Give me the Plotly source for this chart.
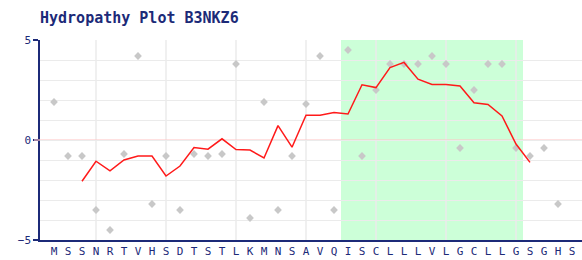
import plotly.graph_objects as go

# Sequence (one-letter codes) shown on the x axis
residues = list("MSSNRTVHSDTSTLKMNSAVQISCLLLVLGCLLGSGHS")
positions = list(range(1, len(residues) + 1))

# Per-residue hydropathy (grey points), residues 1..37
point_pos = list(range(1, 38))
point_vals = [1.9, -0.8, -0.8, -3.5, -4.5, -0.7, 4.2, -3.2, -0.8, -3.5,
              -0.7, -0.8, -0.7, 3.8, -3.9, 1.9, -3.5, -0.8, 1.8, 4.2,
              -3.5, 4.5, -0.8, 2.5, 3.8, 3.8, 3.8, 4.2, 3.8, -0.4,
              2.5, 3.8, 3.8, -0.4, -0.8, -0.4, -3.2]

# Smoothed hydropathy (red line), positions 3..35
line_pos = list(range(3, 36))
line_vals = [-2.06, -1.06, -1.54, -1.00, -0.80, -0.80, -1.80, -1.30, -0.38, -0.46,
             0.06, -0.48, -0.50, -0.90, 0.72, -0.36, 1.24, 1.24, 1.38, 1.30,
             2.76, 2.62, 3.62, 3.88, 3.04, 2.78, 2.78, 2.70, 1.86, 1.78,
             1.20, -0.20, -1.12]

# Predicted hydrophobic region (first and last residue)
region = [22, 34]
grid_x = [4, 9, 14, 19, 24, 29, 34]
y_ticks = [-5, 0, 5]

NAVY = "#1c2a78"
GRID = "#ebebeb"
W, H = 582, 260
ML, MT, MB = 40, 40, 20
plot_w = W - ML
unit = 14.0

fig = go.Figure()

fig.add_trace(go.Scatter(
    x=point_pos, y=point_vals, mode="markers",
    marker=dict(symbol="diamond", size=6, color="#c8c8c8"),
    hoverinfo="skip", showlegend=False))

fig.add_trace(go.Scatter(
    x=line_pos, y=line_vals, mode="lines",
    line=dict(color="#ff1a1a", width=1.5),
    hoverinfo="skip", showlegend=False))

shapes = [dict(type="rect", xref="x", yref="paper", x0=region[0] - 0.5, x1=region[1] + 0.5,
               y0=0, y1=1, fillcolor="#ccffd8", line=dict(width=0), layer="below")]
for gx in grid_x:
    shapes.append(dict(type="line", xref="x", yref="paper", x0=gx, x1=gx, y0=0, y1=1,
                       line=dict(color=GRID, width=1.5), layer="below"))
shapes.append(dict(type="line", xref="paper", yref="y", x0=0, x1=1, y0=0, y1=0,
                   line=dict(color="#ffc4c4", width=1.2), layer="between"))
shapes.append(dict(type="line", xref="paper", yref="y", x0=-6 / plot_w, x1=0, y0=0, y1=0,
                   line=dict(color="#ffc4c4", width=1.2), layer="above"))
fig.update_layout(shapes=shapes)

fig.update_layout(
    width=W, height=H,
    margin=dict(l=ML, r=0, t=MT, b=MB, pad=0),
    paper_bgcolor="white", plot_bgcolor="white",
    title=dict(text="<b>Hydropathy Plot B3NKZ6</b>", x=40 / W, xanchor="left",
               xref="container", y=1 - 18 / H, yanchor="middle", yref="container",
               font=dict(family="DejaVu Sans Mono", size=15, color=NAVY)),
    font=dict(family="DejaVu Sans Mono", size=11, color=NAVY),
    xaxis=dict(range=[0, plot_w / unit], tickmode="array", tickvals=positions,
               ticktext=residues, showgrid=False, zeroline=False,
               showline=True, linecolor=NAVY, linewidth=1.5, ticks="",
               tickfont=dict(size=11, color=NAVY), fixedrange=True),
    yaxis=dict(range=[-5, 5], tickmode="array", tickvals=y_ticks,
               ticktext=["5" if v == 5 else ("0" if v == 0 else "\u22125") for v in y_ticks],
               showgrid=True, gridcolor=GRID, gridwidth=1,
               minor=dict(dtick=1, showgrid=True, gridcolor=GRID, gridwidth=1),
               zeroline=False, showline=True, linecolor=NAVY, linewidth=1.5,
               ticks="outside", ticklen=5, tickcolor=NAVY, tickwidth=1.5,
               tickfont=dict(size=11, color=NAVY), fixedrange=True),
)

fig.write_html("out.html", config={"displayModeBar": False})
